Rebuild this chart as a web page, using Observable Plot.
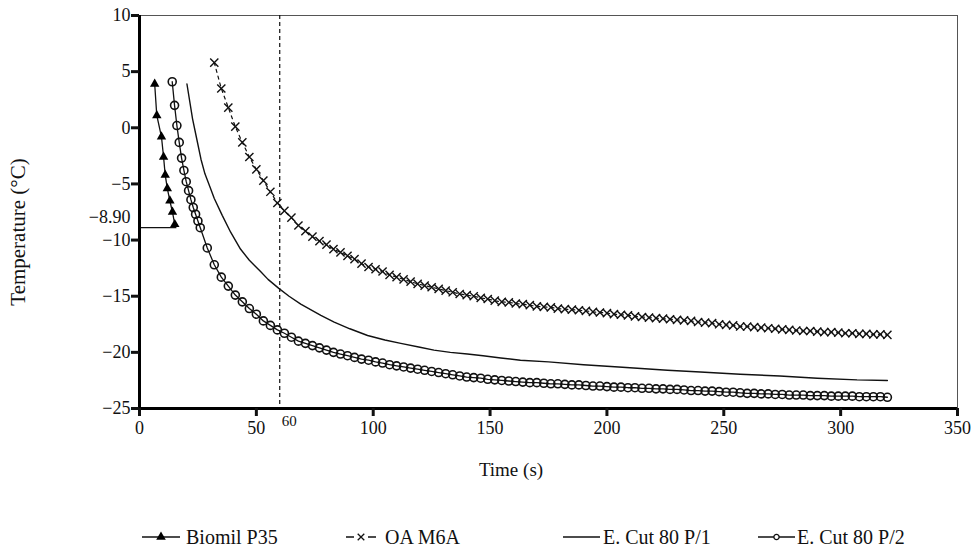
<!DOCTYPE html>
<html><head><meta charset="utf-8">
<script src="https://cdn.jsdelivr.net/npm/d3@7"></script>
<script src="https://cdn.jsdelivr.net/npm/@observablehq/plot@0.6"></script>
<style>body{margin:0;background:#fff;} #chart{width:976px;height:550px;}</style>
</head><body><div id="chart"></div>
<script>
// ---- data ----
const seriesNames = ["Biomil P35", "OA M6A", "E. Cut 80 P/1", "E. Cut 80 P/2"];
const xTicks = [0, 50, 100, 150, 200, 250, 300, 350];
const yTicks = [-25, -20, -15, -10, -5, 0, 5, 10];
const markerTime = 60;
const refTemp = -8.90;
const refEnd = 16;

const biomilTime = [6.5, 7.4, 9.4, 10.3, 11.0, 11.9, 13.0, 14.1, 15.1];
const biomilTemp = [3.9, 1.1, -0.8, -2.6, -4.2, -5.4, -6.5, -7.5, -8.6];

const oaTime = [32,35,38,41,44,47,50,53,56,59,62,65,68,71,74,77,80,83,86,89,92,95,98,101,104,107,110,113,116,119,122,125,128,131,134,137,140,143,146,149,152,155,158,161,164,167,170,173,176,179,182,185,188,191,194,197,200,203,206,209,212,215,218,221,224,227,230,233,236,239,242,245,248,251,254,257,260,263,266,269,272,275,278,281,284,287,290,293,296,299,302,305,308,311,314,317,320];
const oaTemp = [5.8,3.5,1.8,0.1,-1.3,-2.6,-3.7,-4.7,-5.7,-6.7,-7.4,-8.0,-8.7,-9.2,-9.7,-10.1,-10.4,-10.8,-11.1,-11.4,-11.7,-12.1,-12.4,-12.6,-12.8,-13.1,-13.3,-13.5,-13.7,-13.9,-14.05,-14.2,-14.35,-14.5,-14.65,-14.8,-14.9,-15.0,-15.15,-15.25,-15.4,-15.5,-15.55,-15.65,-15.7,-15.8,-15.9,-15.95,-16.0,-16.1,-16.15,-16.2,-16.25,-16.3,-16.4,-16.45,-16.5,-16.6,-16.65,-16.7,-16.8,-16.85,-16.9,-16.95,-17.0,-17.05,-17.1,-17.15,-17.2,-17.3,-17.35,-17.4,-17.5,-17.55,-17.6,-17.7,-17.7,-17.75,-17.8,-17.85,-17.9,-17.95,-18.0,-18.05,-18.1,-18.1,-18.15,-18.2,-18.2,-18.25,-18.3,-18.3,-18.35,-18.35,-18.4,-18.4,-18.45];

const p1Time = [20.3,22.7,24.5,26.3,28.0,30.4,32.0,35.4,39.0,43.2,47.0,51.8,55.0,59.6,64.0,69.0,77.6,83.3,90.0,97.6,105.0,111.8,120.0,126.0,133.0,140.3,147.0,154.6,163.0,175.0,190.0,205.0,225.9,240.0,257.0,274.0,290.0,307.0,320.0];
const p1Temp = [3.9,0.8,-1.0,-2.8,-4.1,-5.4,-6.3,-7.8,-9.3,-10.8,-11.8,-12.8,-13.5,-14.3,-15.0,-15.7,-16.7,-17.3,-17.9,-18.5,-18.9,-19.2,-19.55,-19.8,-20.0,-20.15,-20.3,-20.5,-20.7,-20.85,-21.1,-21.3,-21.6,-21.75,-21.95,-22.1,-22.3,-22.45,-22.5];

const p2Time = [14,15,16,17,18,19,20,21,22,23,24,25,26,29,32,35,38,41,44,47,50,53,56,59,62,65,68,71,74,77,80,83,86,89,92,95,98,101,104,107,110,113,116,119,122,125,128,131,134,137,140,143,146,149,152,155,158,161,164,167,170,173,176,179,182,185,188,191,194,197,200,203,206,209,212,215,218,221,224,227,230,233,236,239,242,245,248,251,254,257,260,263,266,269,272,275,278,281,284,287,290,293,296,299,302,305,308,311,314,317,320];
const p2Temp = [4.1,2.0,0.2,-1.3,-2.7,-3.8,-4.8,-5.6,-6.4,-7.1,-7.7,-8.3,-8.9,-10.7,-12.2,-13.3,-14.1,-14.9,-15.5,-16.1,-16.6,-17.2,-17.6,-18.0,-18.3,-18.65,-19.0,-19.2,-19.4,-19.6,-19.8,-20.0,-20.15,-20.3,-20.45,-20.6,-20.7,-20.85,-20.95,-21.1,-21.2,-21.3,-21.4,-21.5,-21.6,-21.7,-21.8,-21.9,-22.0,-22.1,-22.2,-22.25,-22.3,-22.4,-22.45,-22.5,-22.55,-22.6,-22.65,-22.7,-22.7,-22.75,-22.8,-22.8,-22.85,-22.9,-22.9,-22.95,-23.0,-23.0,-23.05,-23.1,-23.1,-23.15,-23.15,-23.2,-23.2,-23.25,-23.25,-23.3,-23.3,-23.35,-23.4,-23.4,-23.45,-23.45,-23.5,-23.55,-23.55,-23.6,-23.65,-23.65,-23.7,-23.7,-23.75,-23.75,-23.8,-23.8,-23.8,-23.85,-23.85,-23.85,-23.9,-23.9,-23.9,-23.9,-23.95,-23.95,-23.95,-23.95,-24.0];

// ---- build tables ----
const rows = (ts, vs) => ts.map((t, i) => ({t, v: vs[i]}));
const biomil = rows(biomilTime, biomilTemp);
const oa = rows(oaTime, oaTemp);
const p1 = rows(p1Time, p1Temp);
const p2 = rows(p2Time, p2Temp);

const INK = "#111";
const FONT = "'Liberation Serif', 'Times New Roman', serif";

const plot = Plot.plot({
  width: 976, height: 550,
  marginLeft: 139, marginRight: 19, marginTop: 15, marginBottom: 142,
  x: {domain: [0, 350]},
  y: {domain: [-25, 10]},
  style: {fontFamily: FONT, fontSize: "18px", color: INK, background: "#fff", overflow: "visible"},
  marks: [
    Plot.frame({stroke: "#555", strokeWidth: 1}),
    Plot.ruleX([markerTime], {strokeDasharray: "4,3", strokeWidth: 1.2, stroke: INK}),
    Plot.ruleY([refTemp], {x1: 0, x2: refEnd, strokeWidth: 1.2, stroke: INK}),
    Plot.line(p1, {x: "t", y: "v", stroke: INK, strokeWidth: 1.4}),
    Plot.line(oa, {x: "t", y: "v", stroke: INK, strokeWidth: 1.2, strokeDasharray: "3,4"}),
    Plot.dot(oa, {x: "t", y: "v", symbol: "times", r: 3.8, stroke: INK, strokeWidth: 1.4}),
    Plot.line(p2, {x: "t", y: "v", stroke: INK, strokeWidth: 1.3}),
    Plot.dot(p2, {x: "t", y: "v", symbol: "circle", r: 4, stroke: INK, fill: "none", strokeWidth: 1.6}),
    Plot.line(biomil, {x: "t", y: "v", stroke: INK, strokeWidth: 1.3}),
    Plot.dot(biomil, {x: "t", y: "v", symbol: "triangle", r: 3.5, fill: "#000", stroke: "none"}),
    Plot.ruleX([0], {stroke: "#000", strokeWidth: 3}),
    Plot.ruleY([-25], {stroke: "#000", strokeWidth: 3}),
    Plot.axisY({ticks: yTicks, tickSize: 8, strokeWidth: 3, tickPadding: 1, label: null, fontSize: 18, fill: INK}),
    Plot.axisX({ticks: xTicks, tickSize: 8, strokeWidth: 3, tickPadding: 5, label: null, fontSize: 18, fill: INK}),
    Plot.text([markerTime], {x: d => d, y: -25, text: d => String(d), dx: 2, dy: 13, textAnchor: "start", fontSize: 15, fill: INK}),
    Plot.text([refTemp], {x: 0, y: d => d, text: d => d.toFixed(2).replace("-", "\u2212"), dx: -9, dy: -10, textAnchor: "end", fontSize: 18, fill: INK})
  ]
});

const svg = d3.select(plot);
svg.append("text").attr("x", 511).attr("y", 476).attr("text-anchor", "middle")
  .attr("font-family", FONT).attr("font-size", 19).attr("fill", INK).text("Time (s)");
svg.append("text").attr("transform", "translate(25,232) rotate(-90)").attr("text-anchor", "middle")
  .attr("font-family", FONT).attr("font-size", 21).attr("fill", INK).text("Temperature (\u00B0C)");

// legend
const legendY = 537;
const items = [
  {name: seriesNames[0], x0: 142, x1: 180, tx: 186, sym: "triangle", dash: null},
  {name: seriesNames[1], x0: 346, x1: 376, tx: 385, sym: "times", dash: "8,14"},
  {name: seriesNames[2], x0: 563, x1: 600, tx: 603, sym: null, dash: null},
  {name: seriesNames[3], x0: 758, x1: 795, tx: 797, sym: "circle", dash: null}
];
const symMap = {triangle: d3.symbolTriangle, times: d3.symbolTimes, circle: d3.symbolCircle};
const lg = svg.append("g");
items.forEach(it => {
  const g = lg.append("g");
  g.append("line").attr("x1", it.x0).attr("x2", it.x1).attr("y1", legendY).attr("y2", legendY)
    .attr("stroke", INK).attr("stroke-width", 1.4).attr("stroke-dasharray", it.dash);
  if (it.sym) {
    const size = it.sym === "times" ? 30 : (it.sym === "circle" ? 22 : 40);
    const p = g.append("path").attr("d", d3.symbol(symMap[it.sym], size)())
      .attr("transform", `translate(${(it.x0 + it.x1) / 2},${legendY})`);
    if (it.sym === "triangle") p.attr("fill", "#000");
    else p.attr("fill", "#fff").attr("stroke", INK).attr("stroke-width", 1.3);
  }
  g.append("text").attr("x", it.tx).attr("y", legendY).attr("dy", "0.35em").attr("text-anchor", "start")
    .attr("font-family", FONT).attr("font-size", 20).attr("fill", INK).text(it.name);
});

document.getElementById("chart").appendChild(plot);
</script>
</body></html>
